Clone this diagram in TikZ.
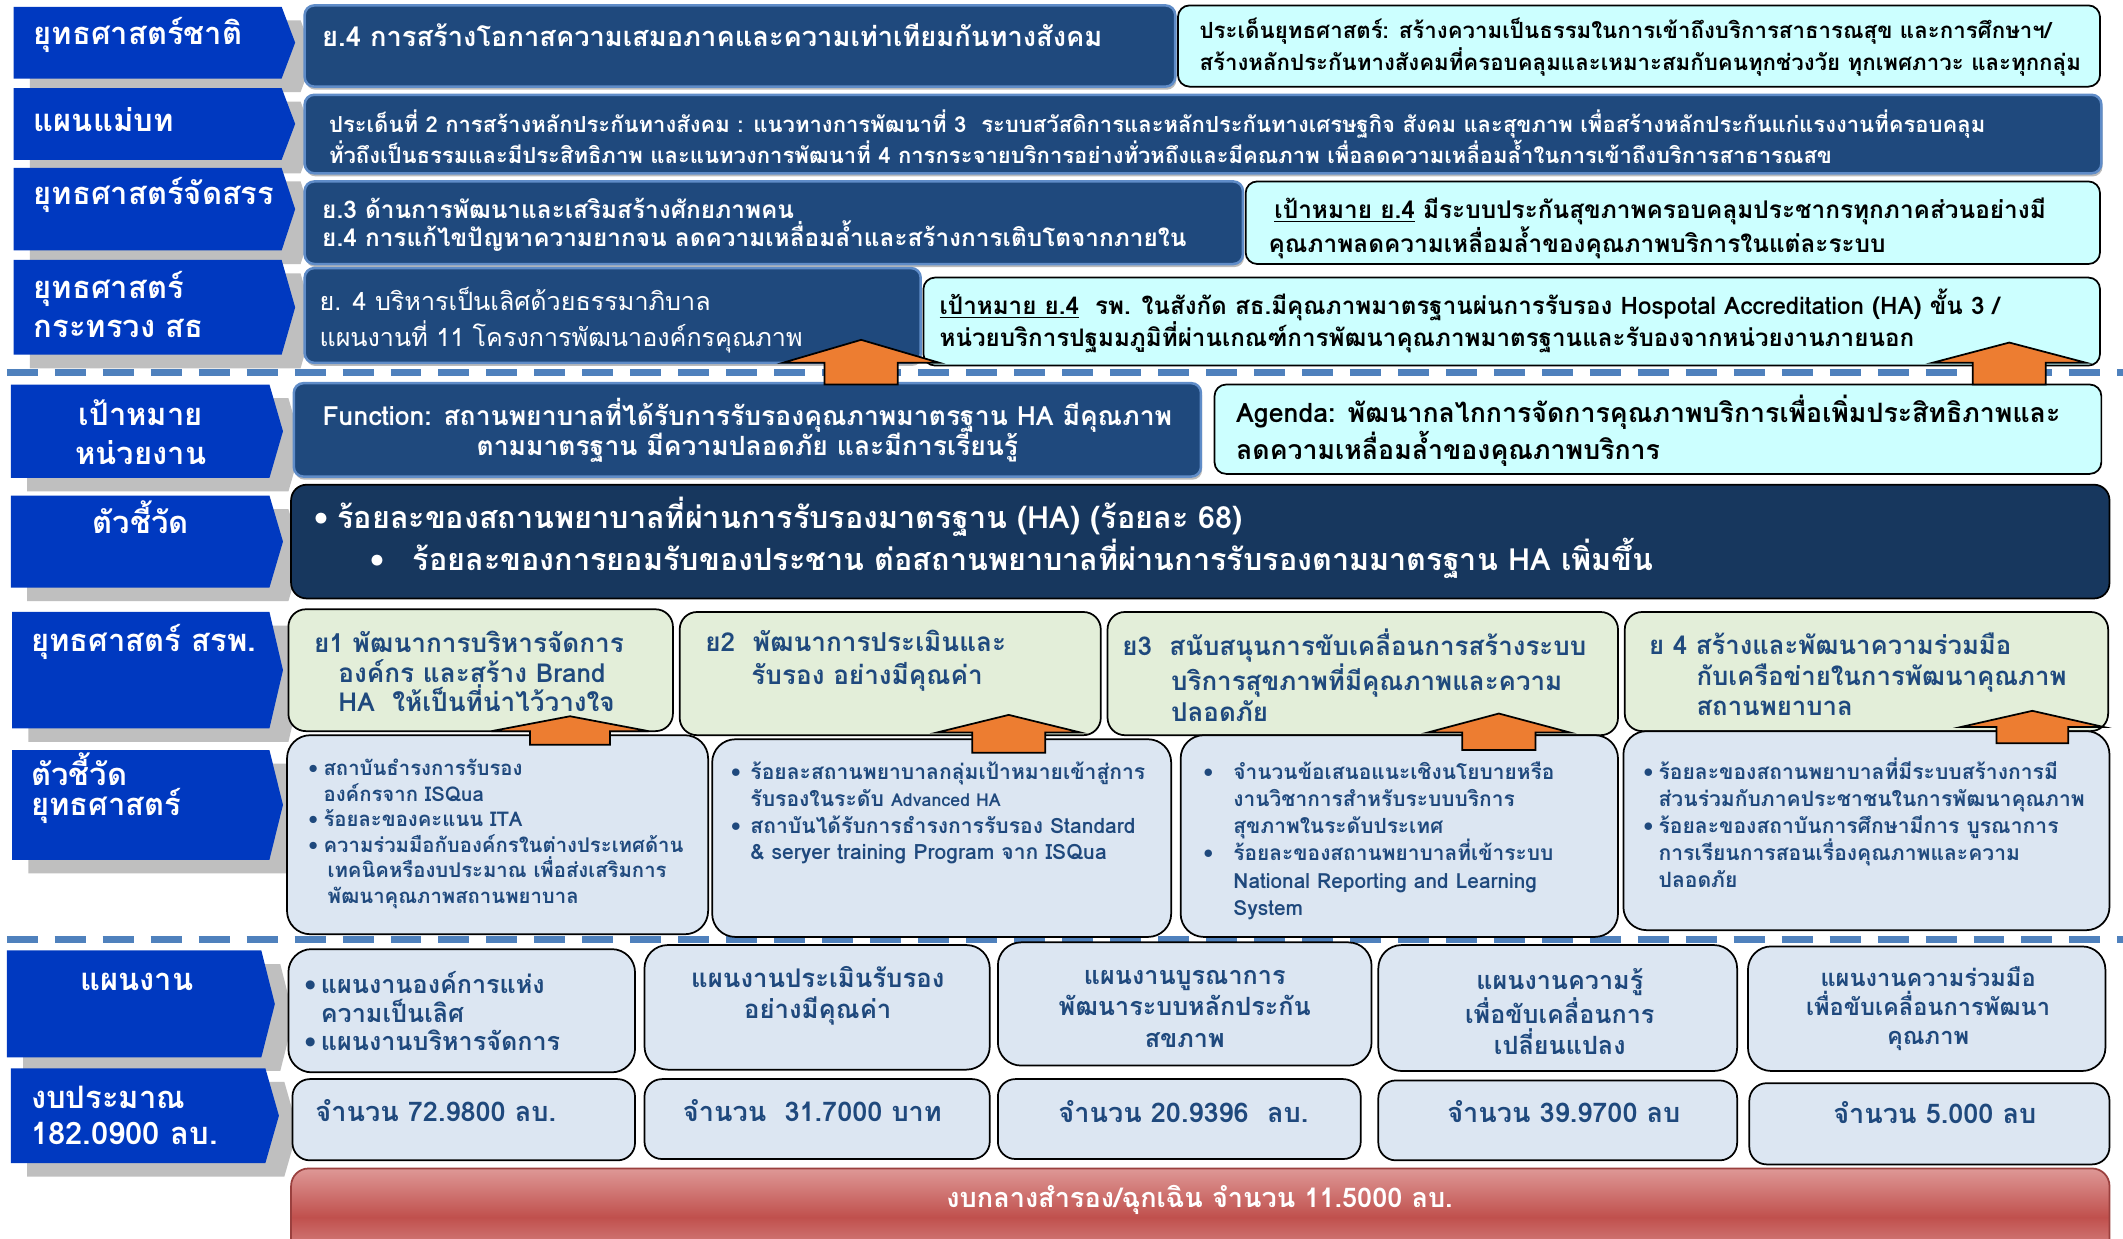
\documentclass[tikz,border=0pt]{standalone}
\usepackage{fontspec}
\setmainfont[Script=Thai]{Loma}
\usetikzlibrary{fit,shadows}
\definecolor{labblue}{RGB}{0,57,192}
\definecolor{shgrey}{RGB}{191,191,191}
\definecolor{dkblue}{RGB}{31,73,125}
\definecolor{dkedge}{RGB}{95,140,200}
\definecolor{navy}{RGB}{23,55,94}
\definecolor{cyanbox}{RGB}{204,255,255}
\definecolor{greenbox}{RGB}{227,238,217}
\definecolor{lbbox}{RGB}{220,230,242}
\definecolor{txtblue}{RGB}{31,73,125}
\definecolor{orng}{RGB}{237,125,49}
\definecolor{dashblue}{RGB}{79,129,189}
\definecolor{redmid}{RGB}{192,80,77}
\definecolor{redlt}{RGB}{222,152,150}
\newcommand\fs[2]{\fontsize{#1}{#2}\selectfont}
\newcommand\bl[1]{\makebox[#1][l]{\textbullet}}
\newcommand\labshape[4]{%
  \fill[shgrey] ({#1+12},{#2+10}) -- ({#3+14},{#2+10}) -- ({#3+24},{(#2+#4)/2+10}) -- ({#3+14},{#4+10}) -- ({#1+12},{#4+10}) -- cycle;
  \fill[labblue] (#1,#2) -- (#3,#2) -- ({#3+10},{(#2+#4)/2}) -- (#3,#4) -- (#1,#4) -- cycle;}
\newcommand\blockarr[6]{%
  \draw[fill=orng, draw=black, line width=0.9pt, line join=miter] (#1,#2) -- ({#1+#3},#4) -- ({#1+#5},#4) -- ({#1+#5},#6) -- ({#1-#5},#6) -- ({#1-#5},#4) -- ({#1-#3},#4) -- cycle;}
\begin{document}
\begin{tikzpicture}[x=0.7pt,y=-0.7pt,
  every node/.style={inner sep=0pt, outer sep=0pt},
  dbox/.style={rounded corners=5pt, fill=dkblue, draw=dkedge, line width=1.3pt,
    drop shadow={shadow xshift=0.6pt, shadow yshift=-1.6pt, opacity=0.45, fill=black!60}},
  cbox/.style={rounded corners=6pt, fill=cyanbox, draw=black, line width=0.9pt},
  nbox/.style={rounded corners=8pt, fill=navy, draw=black, line width=0.9pt},
  gbox/.style={rounded corners=9pt, fill=greenbox, draw=black, line width=0.9pt},
  bbox/.style={rounded corners=12pt, fill=lbbox, draw=black, line width=0.9pt},
  labtxt/.style={text=white, font=\bfseries\fs{16}{19}, align=left},
  wtxt/.style={text=white, align=left},
  ktxt/.style={text=black, align=left},
  btxt/.style={text=txtblue, align=left},
  dashline/.style={draw=dashblue, line width=3.5pt, dash pattern=on 16pt off 8.8pt}
]
\useasboundingbox (0,0) rectangle (1568,915);
\path[clip] (0,0) rectangle (1568,915);
\fill[white] (0,0) rectangle (1568,915);

% dashed separators
\draw[dashline] (5,275) -- (1568,275);
\draw[dashline] (5,694) -- (1568,694);

% left labels
\labshape{10}{5}{208}{58}
\labshape{10}{65}{208}{118}
\labshape{10}{124}{208}{185}
\labshape{10}{192}{208}{262}
\labshape{8}{284}{199}{353}
\labshape{8}{366}{199}{434}
\labshape{9}{452}{199}{538}
\labshape{9}{554}{199}{635}
\labshape{5}{702}{193}{781}
\labshape{8}{789}{196}{859}

\node[labtxt, anchor=west] (l1) at (25,26) {ยุทธศาสตร์ชาติ};
\node[labtxt, anchor=west] (l2) at (25,88) {แผนแม่บท};
\node[labtxt, anchor=west] (l3) at (25,144) {ยุทธศาสตร์จัดสรร};
\node[labtxt, anchor=west, font=\bfseries\fs{16}{20.5}] (l4) at (25,225) {ยุทธศาสตร์\\กระทรวง สธ};
\node[labtxt, align=center, font=\bfseries\fs{16}{20}] (l5) at (104,319) {เป้าหมาย\\หน่วยงาน};
\node[labtxt] (l6) at (104,382) {ตัวชี้วัด};
\node[labtxt, anchor=west] (l7) at (23,474) {ยุทธศาสตร์ สรพ.};
\node[labtxt, anchor=west, font=\bfseries\fs{16}{15.5}] (l8) at (23,582) {ตัวชี้วัด\\ยุทธศาสตร์};
\node[labtxt] (l9) at (101,725) {แผนงาน};
\node[labtxt, anchor=west, font=\bfseries\fs{16}{18.5}] (l10) at (23,824) {งบประมาณ\\182.0900 ลบ.};

% upper boxes
\node[dbox, fit={(225,4) (868,64)}] (d1) {};
\node[cbox, fit={(870,4) (1551,64)}] (c1) {};
\node[dbox, fit={(225,70) (1552,128)}] (d2) {};
\node[dbox, fit={(225,134) (918,195)}] (d3) {};
\node[cbox, fit={(920,134) (1551,195)}] (c3) {};
\node[dbox, fit={(225,198) (680,268)}] (d4) {};
\node[cbox, fit={(682,205) (1551,270)}] (c4) {};
\node[dbox, fit={(217,283) (887,352)}] (d5) {};
\node[cbox, fit={(897,284) (1552,350)}] (c5) {};
\node[nbox, fit={(215,358) (1558,442)}] (n6) {};

\node[wtxt, anchor=west, font=\bfseries\fs{14.1}{17}] (d1t) at (238,26) {ย.4 การสร้างโอกาสความเสมอภาคและความเท่าเทียมกันทางสังคม};
\node[ktxt, anchor=west, font=\bfseries\fs{11.5}{16.5}] (c1t) at (886,35) {ประเด็นยุทธศาสตร์: สร้างความเป็นธรรมในการเข้าถึงบริการสาธารณสุข และการศึกษาฯ/\\สร้างหลักประกันทางสังคมที่ครอบคลุมและเหมาะสมกับคนทุกช่วงวัย ทุกเพศภาวะ และทุกกลุ่ม};
\node[wtxt, anchor=west, font=\bfseries\fs{11.4}{14.7}] (d2t) at (243,101) {ประเด็นที่ 2 การสร้างหลักประกันทางสังคม : แนวทางการพัฒนาที่ 3\ \ ระบบสวัสดิการและหลักประกันทางเศรษฐกิจ สังคม และสุขภาพ เพื่อสร้างหลักประกันแก่แรงงานที่ครอบคลุม\\ทั่วถึงเป็นธรรมและมีประสิทธิภาพ และแนทวงการพัฒนาที่ 4 การกระจายบริการอย่างทั่วหถึงและมีคณภาพ เพื่อลดความเหลื่อมล้ำในการเข้าถึงบริการสาธารณสข};
\node[wtxt, anchor=west, font=\bfseries\fs{12.6}{14.5}] (d3t) at (238,166) {ย.3 ด้านการพัฒนาและเสริมสร้างศักยภาพคน\\ย.4 การแก้ไขปัญหาความยากจน ลดความเหลื่อมล้ำและสร้างการเติบโตจากภายใน};
\node[ktxt, anchor=west, font=\bfseries\fs{12.6}{14.7}] (c3t) at (937,168.5) {\hspace*{3pt}\underline{เป้าหมาย ย.4} มีระบบประกันสุขภาพครอบคลุมประชากรทุกภาคส่วนอย่างมี\\คุณภาพลดความเหลื่อมล้ำของคุณภาพบริการในแต่ละระบบ};
\node[wtxt, anchor=west, font=\fs{13}{19}] (d4t) at (236,236.5) {ย. 4 บริหารเป็นเลิศด้วยธรรมาภิบาล\\แผนงานที่ 11 โครงการพัฒนาองค์กรคุณภาพ};
\node[ktxt, anchor=west, font=\bfseries\fs{12.5}{16.5}] (c4t) at (694,237) {\underline{เป้าหมาย ย.4}\ \ รพ. ในสังกัด สธ.มีคุณภาพมาตรฐานผ่นการรับรอง Hospotal Accreditation (HA) ขั้น 3 /\\หน่วยบริการปฐมมภูมิที่ผ่านเกณฑ์การพัฒนาคุณภาพมาตรฐานและรับองจากหน่วยงานภายนอก};
\node[wtxt, align=center, font=\bfseries\fs{13.7}{15.6}] (d5t) at (552,318) {Function: สถานพยาบาลที่ได้รับการรับรองคุณภาพมาตรฐาน HA มีคุณภาพ\\ตามมาตรฐาน มีความปลอดภัย และมีการเรียนรู้};
\node[ktxt, anchor=west, font=\bfseries\fs{13.8}{15.2}] (c5t) at (913,318) {Agenda: พัฒนากลไกการจัดการคุณภาพบริการเพื่อเพิ่มประสิทธิภาพและ\\ลดความเหลื่อมล้ำของคุณภาพบริการ};
\node[wtxt, anchor=west, font=\bfseries\fs{15.8}{18.5}] (n6t) at (232,397) {\bl{12pt}ร้อยละของสถานพยาบาลที่ผ่านการรับรองมาตรฐาน (HA) (ร้อยละ 68)\\\hspace*{29.4pt}\bl{21.7pt}ร้อยละของการยอมรับของประชาน ต่อสถานพยาบาลที่ผ่านการรับรองตามมาตรฐาน HA เพิ่มขึ้น};

% strategy boxes
\node[gbox, fit={(213,450) (497,540)}] (g1) {};
\node[gbox, fit={(502,452) (813,543)}] (g2) {};
\node[gbox, fit={(818,452) (1195,543)}] (g3) {};
\node[gbox, fit={(1200,452) (1557,540)}] (g4) {};
\node[btxt, anchor=west, font=\bfseries\fs{13.5}{15.4}] (g1t) at (232,496) {ย1 พัฒนาการบริหารจัดการ\\\hspace*{12.6pt}องค์กร และสร้าง Brand\\\hspace*{12.6pt}HA\ \ ให้เป็นที่น่าไว้วางใจ};
\node[btxt, anchor=west, font=\bfseries\fs{13.5}{16.8}] (g2t) at (521,488) {ย2\ \ พัฒนาการประเมินและ\\\hspace*{23.8pt}รับรอง อย่างมีคุณค่า};
\node[btxt, anchor=west, font=\bfseries\fs{13.4}{15.8}] (g3t) at (829,498.5) {ย3\ \ สนับสนุนการขับเคลื่อนการสร้างระบบ\\\hspace*{25.2pt}บริการสุขภาพที่มีคุณภาพและความ\\\hspace*{25.2pt}ปลอดภัย};
\node[btxt, anchor=west, font=\bfseries\fs{13.3}{16}] (g4t) at (1218,498) {ย 4 สร้างและพัฒนาความร่วมมือ\\\hspace*{24.5pt}กับเครือข่ายในการพัฒนาคุณภาพ\\\hspace*{24.5pt}สถานพยาบาล};

% indicator boxes
\node[bbox, fit={(212,543) (523,690)}] (b1) {};
\node[bbox, fit={(526,546) (865,692)}] (b2) {};
\node[bbox, fit={(872,543) (1195,692)}] (b3) {};
\node[bbox, fit={(1199,540) (1558,687)}] (b4) {};
\node[btxt, anchor=west, font=\bfseries\fs{10.5}{13.2}] (b1t) at (228,616) {\bl{7.7pt}สถาบันธำรงการรับรอง\\\hspace*{7.7pt}องค์กรจาก ISQua\\\bl{7.7pt}ร้อยละของคะแนน ITA\\\bl{7.7pt}ความร่วมมือกับองค์กรในต่างประเทศด้าน\\\hspace*{9.8pt}เทคนิคหรืองบประมาณ เพื่อส่งเสริมการ\\\hspace*{9.8pt}พัฒนาคุณภาพสถานพยาบาล};
\node[btxt, anchor=west, font=\bfseries\fs{10.9}{13.8}] (b2t) at (540,600.5) {\bl{10pt}ร้อยละสถานพยาบาลกลุ่มเป้าหมายเข้าสู่การ\\\hspace*{10pt}รับรองในระดับ {\fs{9.2}{13.8}Advanced HA}\\\bl{10pt}สถาบันได้รับการธำรงการรับรอง Standard\\\hspace*{10pt}\& seryer training Program จาก ISQua};
\node[btxt, anchor=west, font=\bfseries\fs{10.8}{14}] (b3t) at (889,621) {\bl{15.4pt}จำนวนข้อเสนอแนะเชิงนโยบายหรือ\\\hspace*{15.4pt}งานวิชาการสำหรับระบบบริการ\\\hspace*{15.4pt}สุขภาพในระดับประเทศ\\\bl{15.4pt}ร้อยละของสถานพยาบาลที่เข้าระบบ\\\hspace*{15.4pt}National Reporting and Learning\\\hspace*{15.4pt}System};
\node[btxt, anchor=west, font=\bfseries\fs{10.9}{14}] (b4t) at (1214,607.5) {\bl{7.7pt}ร้อยละของสถานพยาบาลที่มีระบบสร้างการมี\\\hspace*{7.7pt}ส่วนร่วมกับภาคประชาชนในการพัฒนาคุณภาพ\\\bl{7.7pt}ร้อยละของสถาบันการศึกษามีการ บูรณาการ\\\hspace*{7.7pt}การเรียนการสอนเรื่องคุณภาพและความ\\\hspace*{7.7pt}ปลอดภัย};

% plan boxes
\node[bbox, fit={(213,701) (469,792)}] (p1) {};
\node[bbox, fit={(476,698) (731,790)}] (p2) {};
\node[bbox, fit={(737,696) (1013,787)}] (p3) {};
\node[bbox, fit={(1018,698) (1283,791)}] (p4) {};
\node[bbox, fit={(1291,699) (1555,791)}] (p5) {};
\node[btxt, anchor=west, font=\bfseries\fs{13}{14.7}] (p1t) at (225,747) {\bl{8.4pt}แผนงานองค์การแห่ง\\\hspace*{8.4pt}ความเป็นเลิศ\\\bl{8.4pt}แผนงานบริหารจัดการ};
\node[btxt, align=center, font=\bfseries\fs{13.3}{16.1}] (p2t) at (604,735.5) {แผนงานประเมินรับรอง\\อย่างมีคุณค่า};
\node[btxt, align=center, font=\bfseries\fs{13}{16.3}] (p3t) at (875,745) {แผนงานบูรณาการ\\พัฒนาระบบหลักประกัน\\สขภาพ};
\node[btxt, align=center, font=\bfseries\fs{13}{16.1}] (p4t) at (1152,747) {แผนงานความรู้\\เพื่อขับเคลื่อนการ\\เปลี่ยนแปลง};
\node[btxt, align=center, font=\bfseries\fs{12.2}{14.8}] (p5t) at (1424,745) {แผนงานความร่วมมือ\\เพื่อขับเคลื่อนการพัฒนา\\คุณภาพ};

% budget boxes
\node[bbox, rounded corners=9pt, fit={(216,797) (469,857)}] (q1) {};
\node[bbox, rounded corners=9pt, fit={(476,797) (731,856)}] (q2) {};
\node[bbox, rounded corners=9pt, fit={(737,797) (1005,856)}] (q3) {};
\node[bbox, rounded corners=9pt, fit={(1018,798) (1283,857)}] (q4) {};
\node[bbox, rounded corners=9pt, fit={(1292,800) (1558,860)}] (q5) {};
\node[btxt, anchor=west, font=\bfseries\fs{14}{17}] (q1t) at (233,820) {จำนวน 72.9800 ลบ.};
\node[btxt, font=\bfseries\fs{14}{17}] (q2t) at (600,820) {จำนวน\ \ 31.7000 บาท};
\node[btxt, font=\bfseries\fs{14}{17}] (q3t) at (874,821) {จำนวน 20.9396\ \ ลบ.};
\node[btxt, font=\bfseries\fs{14}{17}] (q4t) at (1155,821) {จำนวน 39.9700 ลบ};
\node[btxt, font=\bfseries\fs{14}{17}] (q5t) at (1429,822) {จำนวน 5.000 ลบ};

% reserve budget
\node[fit={(215,863) (1558,935)}, rounded corners=9pt, top color=redlt, bottom color=redlt, middle color=redmid, draw=redmid!80!black, line width=0.9pt] (r) {};
\node[wtxt, font=\bfseries\fs{14}{17}] (rt) at (886,886) {งบกลางสำรอง/ฉุกเฉิน จำนวน 11.5000 ลบ.};

% orange block arrows
\blockarr{636}{251}{58}{268}{27}{284}
\blockarr{1484}{253}{57}{268}{27}{284}
\blockarr{421}{529}{58}{540}{29.5}{550}
\blockarr{745}{528}{53}{541}{27}{556}
\blockarr{1107}{527}{52.5}{541}{27}{554}
\blockarr{1501}{525}{53}{537}{26.5}{549}
\end{tikzpicture}
\end{document}
